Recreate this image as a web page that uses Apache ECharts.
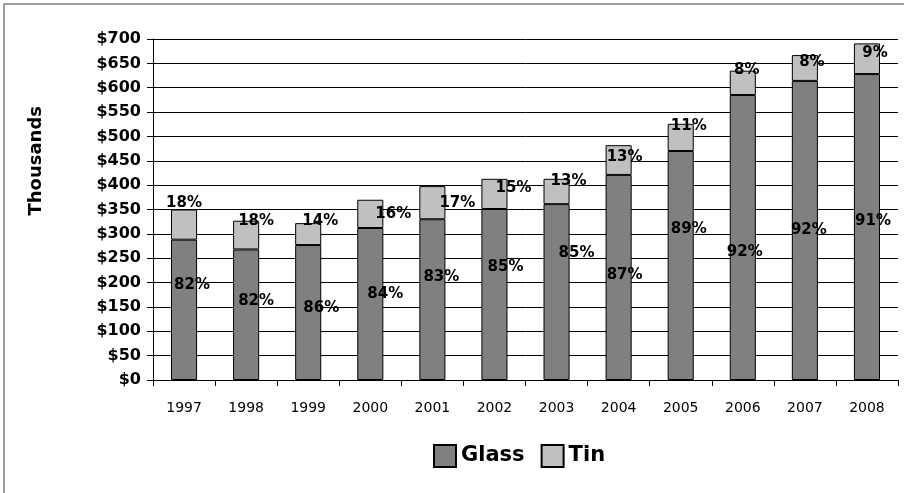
<!DOCTYPE html>
<html>
<head>
<meta charset="utf-8">
<script src="https://cdn.jsdelivr.net/npm/echarts@6/dist/echarts.min.js"></script>
<style>
  html, body { margin: 0; padding: 0; background: #fff; }
  #chart { width: 904px; height: 493px; }
</style>
</head>
<body>
<div id="chart"></div>
<script>
// ---- data ----
var categories = ['1997','1998','1999','2000','2001','2002','2003','2004','2005','2006','2007','2008'];
var glassValues = [288, 268, 277, 312, 330, 351, 361, 421, 470, 585, 614, 628];
var tinValues   = [62, 59, 45, 58, 68, 62, 52, 61, 56, 50, 53, 63];
var glassPctLabels = ['82%','82%','86%','84%','83%','85%','85%','87%','89%','92%','92%','91%'];
var tinPctLabels   = ['18%','18%','14%','16%','17%','15%','13%','13%','11%','8%','8%','9%'];
var yTickValues = [0, 50, 100, 150, 200, 250, 300, 350, 400, 450, 500, 550, 600, 650, 700];

// ---- label nudges (styling, px) ----
var glassLabelShift = [[8,-25],[10,-14],[13,-4],[15,-10],[9,-23],[11,-27],[20,-39],[6,-2],[8,-36],[2,15],[4,0],[6,-6]];
var tinLabelShift   = [[0,-21],[10,-14],[12,-13],[23,0],[25,0],[19,-6],[12,-10],[6,-3],[8,-11],[4,-13],[7,-6],[8,-6]];

var FONT = '"DejaVu Sans", sans-serif';

function makeData(values, labels, shifts) {
  return values.map(function (v, i) {
    return {
      value: v,
      label: { formatter: labels[i], offset: shifts[i] }
    };
  });
}

var chart = echarts.init(document.getElementById('chart'), null, { renderer: 'canvas' });
chart.setOption({
  animation: false,
  backgroundColor: '#ffffff',
  graphic: [{
    type: 'rect',
    shape: { x: 4, y: 4, width: 1200, height: 1200 },
    style: { fill: 'none', stroke: '#808080', lineWidth: 1.5 },
    silent: true
  }, {
    type: 'text',
    left: 27,
    top: 106,
    rotation: Math.PI / 2,
    style: {
      text: 'Thousands',
      font: 'bold 18px ' + FONT,
      fill: '#000'
    }
  }],
  grid: { left: 153, right: 6, top: 39, bottom: 113, containLabel: false },
  legend: {
    data: ['Glass', 'Tin'],
    left: 428,
    top: 439,
    itemWidth: 22,
    itemHeight: 22,
    itemGap: 16,
    icon: 'rect',
    textStyle: { fontFamily: FONT, fontWeight: 'bold', fontSize: 21, color: '#000', padding: [0, 0, 0, 0] }
  },
  xAxis: {
    type: 'category',
    data: categories,
    axisLine: { lineStyle: { color: '#000', width: 1 } },
    axisTick: { show: true, length: 6, lineStyle: { color: '#000' } },
    axisLabel: { fontFamily: FONT, fontSize: 14, color: '#000', margin: 21 }
  },
  yAxis: {
    type: 'value',
    min: 0,
    max: 700,
    interval: 50,
    axisLine: { show: true, lineStyle: { color: '#000', width: 1 } },
    axisTick: { show: true, length: 6, lineStyle: { color: '#000' } },
    splitLine: { show: true, lineStyle: { color: '#000', width: 1 } },
    axisLabel: {
      fontFamily: FONT, fontWeight: 'bold', fontSize: 16, color: '#000', margin: 12,
      formatter: function (v) { return yTickValues.indexOf(v) >= 0 ? '$' + v : ''; }
    }
  },
  series: [{
    name: 'Glass',
    type: 'bar',
    stack: 'total',
    barWidth: '42%',
    itemStyle: { color: '#808080', borderColor: '#000', borderWidth: 1 },
    label: { show: true, position: 'inside', fontFamily: FONT, fontWeight: 'bold', fontSize: 15, color: '#000' },
    data: makeData(glassValues, glassPctLabels, glassLabelShift)
  }, {
    name: 'Tin',
    type: 'bar',
    stack: 'total',
    barWidth: '42%',
    itemStyle: { color: '#c0c0c0', borderColor: '#000', borderWidth: 1 },
    label: { show: true, position: 'inside', fontFamily: FONT, fontWeight: 'bold', fontSize: 15, color: '#000' },
    data: makeData(tinValues, tinPctLabels, tinLabelShift)
  }]
});
</script>
</body>
</html>
